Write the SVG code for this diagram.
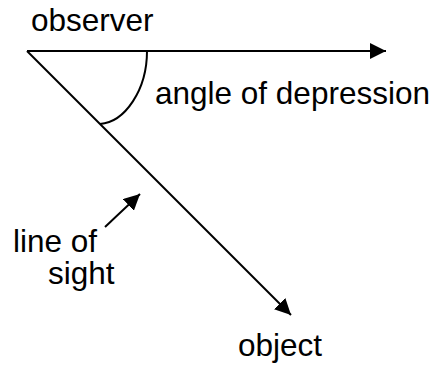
<svg xmlns="http://www.w3.org/2000/svg" width="436" height="369" viewBox="0 0 436 369">
<style>
.ln{stroke:#000;stroke-width:2;fill:none}
.t{font-family:"Liberation Sans",Arial,sans-serif;font-size:31.5px;fill:#000}
</style>
<defs>
<marker id="ah" markerUnits="userSpaceOnUse" markerWidth="16" markerHeight="16" refX="14" refY="7" orient="auto" viewBox="0 0 14 14">
<path d="M0,0 L14,7 L0,14 z" fill="#000"/>
</marker>
</defs>
<rect width="436" height="369" fill="#fff"/>
<g id="connectors">
<line class="ln" x1="27" y1="51" x2="386" y2="51" marker-end="url(#ah)"/>
<line class="ln" x1="27" y1="51" x2="291" y2="315" marker-end="url(#ah)"/>
<line class="ln" x1="105" y1="227" x2="140" y2="194" marker-end="url(#ah)"/>
<path class="ln" d="M147,51 C147,90 125,122 100,124"/>
</g>
<g id="observer"><text class="t" x="31" y="31">observer</text></g>
<g id="angle"><text class="t" x="155" y="104">angle of depression</text></g>
<g id="lineofsight"><text class="t" x="13" y="252">line of</text><text class="t" x="48" y="284">sight</text></g>
<g id="object"><text class="t" x="238" y="356">object</text></g>
</svg>
